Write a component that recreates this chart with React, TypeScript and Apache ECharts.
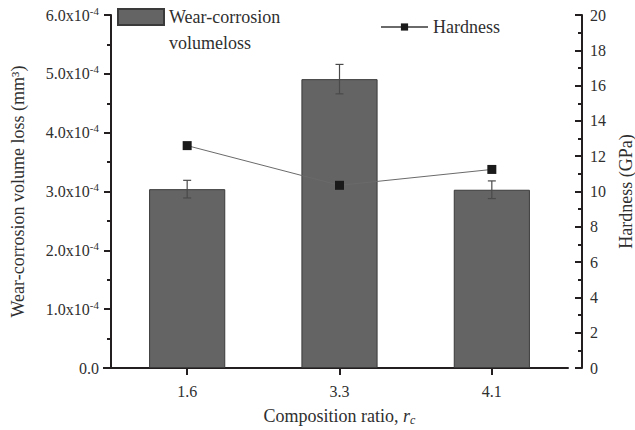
import React, { useEffect, useRef } from "react";
import * as echarts from "echarts";

// Composition ratios on the category axis
const categories = ["1.6", "3.3", "4.1"];
// Wear-corrosion volume loss (mm^3) and its standard deviation
const wearLoss = [3.04e-4, 4.91e-4, 3.03e-4];
const wearLossError = [0.15e-4, 0.25e-4, 0.15e-4];
// Hardness (GPa)
const hardness = [12.6, 10.35, 11.25];

const FONT = "'Liberation Serif', 'Times New Roman', serif";
const INK = "#231f20";
const TEXT = "#2f2f2f";

export default function App() {
  const ref = useRef<HTMLDivElement>(null);

  useEffect(() => {
    if (!ref.current) return;
    document.body.style.margin = "0";
    const chart = echarts.init(ref.current, undefined, { renderer: "svg" });

    const errorData = wearLoss.map((v, i) => [i, v - wearLossError[i], v + wearLossError[i]]);

    const axisLine = { show: true, lineStyle: { color: INK, width: 2 } };
    const labelStyle = { fontFamily: FONT, fontSize: 16, color: TEXT };

    chart.setOption({
      animation: false,
      textStyle: { fontFamily: FONT },
      grid: { left: 111, right: 67, top: 15, bottom: 62, containLabel: false, outerBoundsMode: "none" },
      legend: [
        {
          data: ["Wear-corrosion volumeloss"],
          left: 117,
          top: -22,
          padding: 0,
          icon: "rect",
          itemWidth: 46,
          itemHeight: 16,
          itemGap: 0,
          selectedMode: false,
          // blank first line keeps the icon level with "Wear-corrosion"
          formatter: () => " \nWear-corrosion\nvolumeloss",
          textStyle: {
            fontFamily: FONT,
            fontSize: 18,
            color: TEXT,
            lineHeight: 26,
          },
        },
        {
          data: ["Hardness"],
          left: 375,
          top: 13,
          itemWidth: 47,
          itemHeight: 9,
          selectedMode: false,
          textStyle: { fontFamily: FONT, fontSize: 18, color: TEXT },
        },
      ],
      xAxis: {
        type: "category",
        data: categories,
        name: "Composition ratio, {i|r}{sub|c}",
        nameLocation: "middle",
        nameGap: 38,
        nameTextStyle: {
          fontFamily: FONT,
          fontSize: 18,
          color: TEXT,
          rich: {
            i: { fontFamily: FONT, fontSize: 18, fontStyle: "italic", color: TEXT },
            sub: { fontFamily: FONT, fontSize: 12, fontStyle: "italic", color: TEXT, padding: [8, 0, 0, 0] },
          },
        },
        axisLine,
        axisTick: { show: true, alignWithLabel: true, length: 7, lineStyle: { color: INK, width: 2 } },
        axisLabel: { ...labelStyle, margin: 15 },
        splitLine: { show: false },
      },
      yAxis: [
        {
          type: "value",
          min: 0,
          max: 6e-4,
          interval: 1e-4,
          name: "Wear-corrosion volume loss (mm³)",
          nameLocation: "middle",
          nameRotate: 90,
          nameGap: 84,
          nameTextStyle: { fontFamily: FONT, fontSize: 18, color: TEXT },
          axisLine,
          axisTick: { show: true, length: 7, lineStyle: { color: INK, width: 2 } },
          minorTick: { show: true, splitNumber: 2, length: 4, lineStyle: { color: INK, width: 2 } },
          axisLabel: {
            ...labelStyle,
            margin: 12,
            formatter: (v: number) => {
              if (v === 0) return "0.0";
              return `${(Math.round(v * 1e5) / 10).toFixed(1)}x10{sup|-4}`;
            },
            rich: {
              sup: { fontFamily: FONT, fontSize: 11, color: TEXT, padding: [0, 0, 9, 0] },
            },
          },
          splitLine: { show: false },
        },
        {
          type: "value",
          min: 0,
          max: 20,
          interval: 2,
          position: "right",
          offset: 14,
          name: "Hardness (GPa)",
          nameLocation: "middle",
          nameRotate: 90,
          nameGap: 35,
          nameTextStyle: { fontFamily: FONT, fontSize: 18, color: TEXT },
          axisLine,
          axisTick: { show: true, inside: true, length: 7, lineStyle: { color: INK, width: 2 } },
          minorTick: { show: true, splitNumber: 2, length: 4, lineStyle: { color: INK, width: 2 } },
          axisLabel: { ...labelStyle, margin: 8 },
          splitLine: { show: false },
        },
      ],
      series: [
        {
          name: "Wear-corrosion volumeloss",
          type: "bar",
          data: wearLoss,
          barWidth: "50%",
          itemStyle: { color: "#646464", borderColor: "#3a3a3a", borderWidth: 1 },
          z: 2,
        },
        {
          name: "Error",
          type: "custom",
          data: errorData,
          z: 3,
          renderItem: (params: any, api: any) => {
            const idx = api.value(0);
            const lo = api.coord([idx, api.value(1)]);
            const hi = api.coord([idx, api.value(2)]);
            const half = 4;
            const style = { stroke: "#4a4a4a", lineWidth: 1.2 };
            return {
              type: "group",
              children: [
                { type: "line", shape: { x1: hi[0], y1: hi[1], x2: lo[0], y2: lo[1] }, style },
                { type: "line", shape: { x1: hi[0] - half, y1: hi[1], x2: hi[0] + half, y2: hi[1] }, style },
                { type: "line", shape: { x1: lo[0] - half, y1: lo[1], x2: lo[0] + half, y2: lo[1] }, style },
              ],
            };
          },
        },
        {
          name: "Hardness",
          type: "line",
          yAxisIndex: 1,
          data: hardness,
          symbol: "rect",
          symbolSize: 9,
          itemStyle: { color: "#1a1a1a" },
          lineStyle: { color: "#6a6a6a", width: 1 },
          z: 4,
        },
      ],
      graphic: [
        {
          type: "line",
          shape: { x1: 103, y1: 368, x2: 112, y2: 368 },
          style: { stroke: INK, lineWidth: 2 },
        },
      ],
    });

    return () => chart.dispose();
  }, []);

  return (
    <div
      ref={ref}
      style={{ position: "absolute", left: 0, top: 0, width: 635, height: 430 }}
    />
  );
}
